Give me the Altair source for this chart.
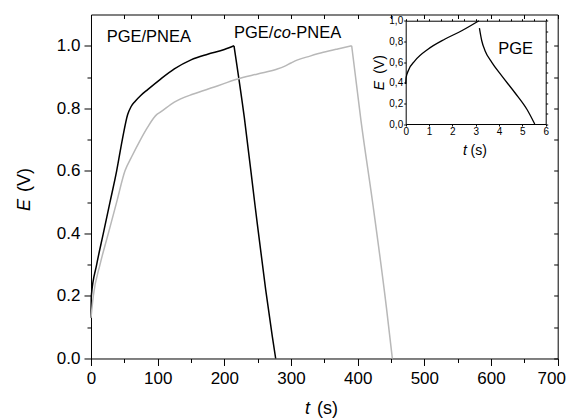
import altair as alt
import pandas as pd

FONT = "Liberation Sans"

# ---- main chart data (t in s, E in V) ----
# PGE/PNEA: charge branch then discharge branch
pnea_charge_t = [0, 0.5, 8.5, 18.5, 28.5, 38.5, 47, 55, 60, 66, 75, 85, 103.5, 125, 150, 175, 200, 214.5]
pnea_charge_E = [0.13, 0.2, 0.3, 0.4, 0.5, 0.6, 0.7, 0.78, 0.805, 0.822, 0.842, 0.86, 0.892, 0.926, 0.955, 0.973, 0.988, 1.0]
pnea_dis_t = [214.5, 230, 246, 262, 272, 277]
pnea_dis_E = [1.0, 0.77, 0.49, 0.22, 0.07, 0.0]
# PGE/co-PNEA
copnea_charge_t = [0, 3.5, 13.5, 26, 38.5, 51, 61, 73.5, 85, 98.5, 103.5, 125, 153.5, 185, 218.5, 250, 278.5, 290,
                   300, 310, 328.5, 348.5, 370, 391]
copnea_charge_E = [0.13, 0.2, 0.3, 0.4, 0.5, 0.6, 0.645, 0.697, 0.74, 0.78, 0.787, 0.82, 0.846, 0.868, 0.893, 0.91, 0.925,
                   0.934, 0.945, 0.955, 0.967, 0.979, 0.99, 1.0]
copnea_dis_t = [391, 405, 423, 443, 452]
copnea_dis_E = [1.0, 0.76, 0.49, 0.165, 0.0]
series_names = ["PGE/PNEA", "PGE/co-PNEA"]
series_colors = ["#000000", "#b8b8b8"]

# ---- inset data (PGE) ----
pge_t1 = [0, 0.02, 0.11, 0.4, 0.97, 1.69, 2.4, 3.14]
pge_E1 = [0.387, 0.45, 0.516, 0.613, 0.726, 0.823, 0.903, 1.0]
pge_t2 = [3.16, 3.26, 3.4, 3.69, 4.11, 4.69, 5.2, 5.53]
pge_E2 = [0.929, 0.806, 0.71, 0.597, 0.468, 0.3, 0.14, 0.0]

# ---- ticks ----
x_major = [0, 100, 200, 300, 400, 500, 600, 700]
x_minor = [50, 150, 250, 350, 450, 550, 650]
x_all = [0, 50, 100, 150, 200, 250, 300, 350, 400, 450, 500, 550, 600, 650, 700]
y_major = [0.0, 0.2, 0.4, 0.6, 0.8, 1.0]
y_minor = [0.1, 0.3, 0.5, 0.7, 0.9]
y_all = [0.0, 0.1, 0.2, 0.3, 0.4, 0.5, 0.6, 0.7, 0.8, 0.9, 1.0]
ix_ticks = [0, 1, 2, 3, 4, 5, 6]
ix_all = [0, 0.5, 1, 1.5, 2, 2.5, 3, 3.5, 4, 4.5, 5, 5.5, 6]
iy_ticks = [0.0, 0.2, 0.4, 0.6, 0.8, 1.0]

W, H = 466.7, 344

def rows(t, e, series, seg):
    return pd.DataFrame({"t": t, "E": e, "series": series, "seg": seg, "order": list(range(len(t)))})

main_df = pd.concat([
    rows(pnea_charge_t, pnea_charge_E, series_names[0], "a1"),
    rows(pnea_dis_t, pnea_dis_E, series_names[0], "a2"),
    rows(copnea_charge_t, copnea_charge_E, series_names[1], "b1"),
    rows(copnea_dis_t, copnea_dis_E, series_names[1], "b2"),
], ignore_index=True)
inset_df = pd.concat([
    rows(pge_t1, pge_E1, "PGE", "c1"),
    rows(pge_t2, pge_E2, "PGE", "c2"),
], ignore_index=True)

def mx():
    return alt.Scale(domain=[0, 700], nice=False, zero=False)

def my():
    return alt.Scale(domain=[0, 1.1], nice=False, zero=False)

def ix():
    return alt.Scale(domain=[0, 6], nice=False, zero=False, range=[314.7, 454.7])

def iy():
    return alt.Scale(domain=[0, 1], nice=False, zero=False, range=[109.5, 6.2])

common = dict(grid=False, title=None, labelFont=FONT, labelColor="black", tickColor="black",
              domainColor="black", labelFlush=False, labelOverlap=False)

# A: visible main lines, major ticks with labels
A = alt.Chart(main_df).mark_line(strokeWidth=1.5, interpolate="monotone").encode(
    x=alt.X("t:Q", scale=mx(), axis=alt.Axis(
        orient="bottom", values=x_major, format="d", tickSize=7, labelPadding=5, labelFontSize=17,
        labelOffset={"condition": {"test": "datum.value == 700", "value": -6.5}, "value": 0},
        domain=False, **common)),
    y=alt.Y("E:Q", scale=my(), axis=alt.Axis(orient="left", values=y_major, format=".1f", tickSize=7,
                                             labelPadding=4, labelFontSize=17, domain=False, **common)),
    color=alt.Color("series:N", scale=alt.Scale(domain=series_names, range=series_colors), legend=None),
    detail="seg:N",
    order="order:Q",
)

# B: minor ticks on bottom/left
B = alt.Chart(main_df).mark_line(strokeOpacity=0).encode(
    x=alt.X("t:Q", scale=mx(), axis=alt.Axis(orient="bottom", values=x_minor, labels=False, tickSize=4,
                                             domain=False, **common)),
    y=alt.Y("E:Q", scale=my(), axis=alt.Axis(orient="left", values=y_minor, labels=False, tickSize=4,
                                             domain=False, **common)),
    detail="seg:N",
)

# C: mirror ticks on top/right (pointing inward)
C = alt.Chart(main_df).mark_line(strokeOpacity=0).encode(
    x=alt.X("t:Q", scale=mx(), axis=alt.Axis(orient="top", values=x_all, labels=False, tickSize=4,
                                             offset=-4, domain=False, **common)),
    y=alt.Y("E:Q", scale=my(), axis=alt.Axis(orient="right", values=y_all, labels=False, tickSize=4,
                                             offset=-4, domain=False, **common)),
    detail="seg:N",
)

inset_label = "replace(format(datum.value, '.1f'), '.', ',')"

# D: inset line with its own axes
D = alt.Chart(inset_df).mark_line(strokeWidth=1.3, color="black", interpolate="monotone").encode(
    x=alt.X("t:Q", scale=ix(), axis=alt.Axis(orient="bottom", values=ix_ticks, format="d", tickSize=2,
                                             labelPadding=0, labelFontSize=10, offset=-234.5, **common)),
    y=alt.Y("E:Q", scale=iy(), axis=alt.Axis(orient="left", values=iy_ticks, labelExpr=inset_label,
                                             tickSize=2, labelPadding=1, labelFontSize=10, offset=-314.7,
                                             **common)),
    detail="seg:N",
    order="order:Q",
)

# E: inset frame top/right
E = alt.Chart(inset_df).mark_line(strokeOpacity=0).encode(
    x=alt.X("t:Q", scale=ix(), axis=alt.Axis(orient="top", values=ix_all, labels=False, tickSize=2,
                                             offset=-6.2, **common)),
    y=alt.Y("E:Q", scale=iy(), axis=alt.Axis(orient="right", values=y_all, labels=False, tickSize=2,
                                             offset=-12, **common)),
    detail="seg:N",
)

# ---- text annotations (pixel positions inside the plot area) ----
def txt(s, x, y, size, italic=False, angle=0, align="left"):
    kw = dict(font=FONT, fontSize=size, color="black", align=align, baseline="alphabetic", angle=angle)
    if italic:
        kw["fontStyle"] = "italic"
    return alt.Chart(pd.DataFrame({"s": [s]})).mark_text(**kw).encode(
        text="s:N", x=alt.value(x), y=alt.value(y))

labels = [
    txt("PGE/PNEA", 15.7, 27.2, 16.5),
    txt("PGE/", 143, 23.8, 16.5),
    txt("co", 182.4, 23.8, 16.5, italic=True),
    txt("-PNEA", 199.8, 23.8, 16.5),
    txt("PGE", 407.3, 39.5, 16.5),
    # main axis titles
    txt("t", 214, 399.5, 18, italic=True),
    txt("(s)", 226, 399.5, 18),
    txt("E", -61, 190.5, 18, italic=True, angle=270, align="center"),
    txt("(V)", -61, 165.5, 18, angle=270, align="center"),
    # inset axis titles
    txt("t", 372, 140.5, 14, italic=True),
    txt("(s)", 379.5, 140.5, 14),
    txt("E", 293, 71, 14, italic=True, angle=270, align="center"),
    txt("(V)", 293, 50, 14, angle=270, align="center"),
]

chart = alt.layer(A, B, C, D, E, *labels).resolve_scale(x="independent", y="independent").properties(
    width=W, height=H,
    autosize=alt.AutoSizeParams(type="none"),
    padding={"left": 83, "top": 6.5, "right": 8, "bottom": 62},
    background="white",
).configure_view(stroke="black", strokeWidth=1)

chart.save("out.html", embed_options={"renderer": "svg", "actions": False})
